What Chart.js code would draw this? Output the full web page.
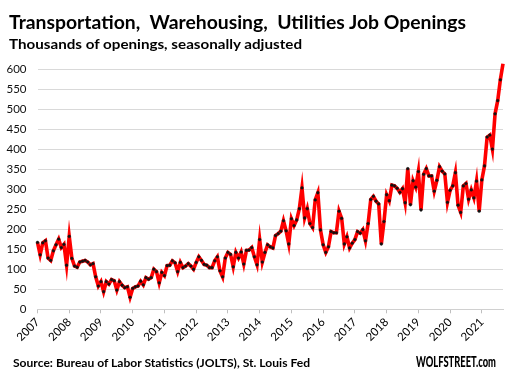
<!DOCTYPE html>
<html>
<head>
<meta charset="utf-8">
<script src="https://cdn.jsdelivr.net/npm/chart.js@4"></script>
<style>
  html, body { margin: 0; padding: 0; background: #fff; }
  #wrap { position: relative; width: 509px; height: 382px; overflow: hidden; }
  canvas { position: absolute; left: 0; top: 0; }
  .t { position: absolute; font-family: Lato, "Open Sans", sans-serif; font-weight: bold; color: #000; white-space: nowrap; line-height: 1; transform-origin: 0 50%; }
</style>
</head>
<body>
<div id="wrap">
  <canvas id="c" width="509" height="382"></canvas>
  <div class="t" data-w="457" style="left:9px; top:13px; font-size:18.5px;">Transportation,&nbsp; Warehousing,&nbsp; Utilities Job Openings</div>
  <div class="t" data-w="293" style="left:9px; top:38px; font-size:13.5px;">Thousands of openings, seasonally adjusted</div>
  <div class="t" data-w="297" style="left:13px; top:357px; font-size:11.5px;">Source: Bureau of Labor Statistics (JOLTS), St. Louis Fed</div>
  <div class="t" data-w="80" style="left:416px; top:354px; font-size:15.5px; font-weight:900;">WOLFSTREET.com</div>
</div>
<script>
const years = ["2007","2008","2009","2010","2011","2012","2013","2014","2015","2016","2017","2018","2019","2020","2021"];
const monthsPerYear = 12;
const openings = [
  167,136,166,171,128,122,146,161,175,154,162,110,
  182,127,108,105,118,120,122,118,111,114,81,58,
  69,44,69,63,74,71,48,69,60,54,56,30,
  52,56,58,70,61,79,75,79,100,94,66,92,
  84,109,110,121,116,94,117,104,108,114,108,100,
  117,131,122,112,110,104,104,121,131,96,81,128,
  142,137,106,142,128,143,113,147,148,154,131,111,
  174,118,142,161,156,153,184,189,195,221,196,163,
  226,209,223,251,303,228,251,214,204,273,291,198,
  161,142,156,194,191,191,245,227,163,181,153,165,
  174,194,190,199,171,214,274,282,270,263,163,219,
  286,271,310,308,302,292,301,266,351,261,321,305,
  344,248,337,351,333,333,295,322,356,345,338,267,
  297,308,341,260,242,308,314,275,298,278,320,245,
  323,358,430,435,400,488,521,573,613
];
// one category per month; label shown only at January
const labels = openings.map((_, i) => (i % monthsPerYear === 0) ? years[i / monthsPerYear] : "");
const yTicks = [0,50,100,150,200,250,300,350,400,450,500,550,600];

const font = { family: "Lato, 'Open Sans', sans-serif", size: 11.5 };

// fit header/footer texts to the reference widths
document.querySelectorAll('.t[data-w]').forEach(el => {
  const w = el.getBoundingClientRect().width;
  el.style.transform = 'scaleX(' + (parseFloat(el.dataset.w) / w) + ')';
});

new Chart(document.getElementById('c'), {
  type: 'line',
  data: {
    labels: labels,
    datasets: [{
      data: openings,
      borderColor: '#ff0000',
      borderWidth: 3.6,
      pointRadius: 1.4,
      pointBackgroundColor: '#111',
      pointBorderColor: '#111',
      pointBorderWidth: 0.4,
      tension: 0,
      clip: false
    }]
  },
  options: {
    responsive: false,
    animation: false,
    devicePixelRatio: 1,
    layout: { padding: { left: 0, right: 6, top: 69, bottom: 0 } },
    plugins: { legend: { display: false }, tooltip: { enabled: false } },
    scales: {
      x: {
        type: 'category',
        offset: false,
        afterBuildTicks: (axis) => { axis.ticks = axis.ticks.filter(t => t.value % monthsPerYear === 0); },
        afterFit: (s) => { s.height = 72.7; },
        grid: { drawOnChartArea: false, drawTicks: true, tickLength: 4, color: '#bfbfbf' },
        border: { display: true, color: '#d0d0d0' },
        ticks: {
          autoSkip: false, minRotation: 45, maxRotation: 45, padding: 2,
          color: '#000', font: font,
          callback: function(v) { return labels[v]; }
        }
      },
      y: {
        min: 0, max: 600,
        afterBuildTicks: (axis) => { axis.ticks = yTicks.map(v => ({ value: v })); },
        afterFit: (s) => { s.width = 37.5; },
        grid: { color: '#d9d9d9', lineWidth: 1, drawTicks: false },
        border: { display: false },
        ticks: { padding: 11, color: '#111', font: font }
      }
    }
  }
});
</script>
</body>
</html>
